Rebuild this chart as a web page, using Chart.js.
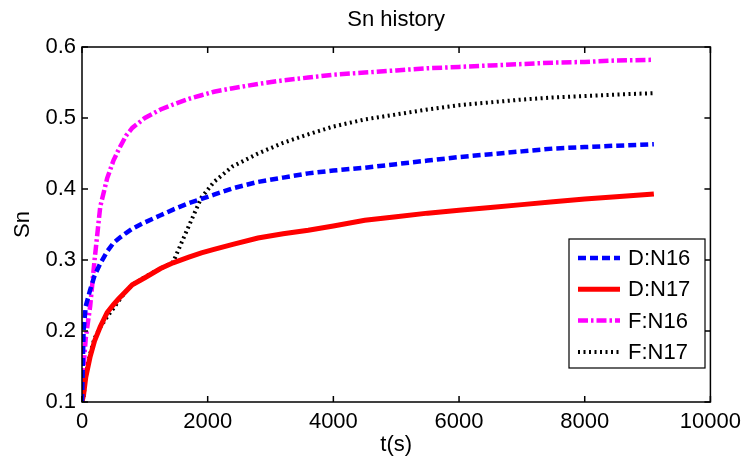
<!DOCTYPE html>
<html>
<head>
<meta charset="utf-8">
<script src="https://cdn.jsdelivr.net/npm/chart.js@4"></script>
<style>
  html, body { margin: 0; padding: 0; background: #fff; }
  #wrap { width: 748px; height: 462px; }
</style>
</head>
<body>
<div id="wrap"><canvas id="myChart" width="748" height="462"></canvas></div>
<script>
// time axis (s), shared by all four runs
const tValues = [0, 25, 60, 130, 200, 290, 400, 500, 580, 700, 800, 1000, 1250, 1450, 1700, 1900, 2100,
    2400, 2800, 3200, 3600, 4000, 4500, 5000, 5500, 6000, 6500, 7000, 7500, 8000, 8500, 9100];

const dN16 = [0.10, 0.20, 0.235, 0.258, 0.278, 0.295, 0.312, 0.324, 0.330, 0.338, 0.344, 0.353, 0.363, 0.371, 0.380, 0.386, 0.392,
    0.401, 0.410, 0.416, 0.422, 0.426, 0.430, 0.435, 0.440, 0.445, 0.449, 0.453, 0.457, 0.459, 0.461, 0.463];
const dN17 = [0.10, 0.11, 0.135, 0.164, 0.186, 0.206, 0.226, 0.237, 0.245, 0.256, 0.265, 0.275, 0.288, 0.296, 0.304, 0.310, 0.315,
    0.322, 0.331, 0.337, 0.342, 0.348, 0.356, 0.361, 0.366, 0.370, 0.374, 0.378, 0.382, 0.386, 0.389, 0.393];
const fN16 = [0.10, 0.15, 0.19, 0.235, 0.30, 0.375, 0.415, 0.44, 0.455, 0.475, 0.486, 0.500, 0.512, 0.519, 0.527, 0.532, 0.537,
    0.542, 0.548, 0.553, 0.557, 0.561, 0.564, 0.567, 0.570, 0.572, 0.574, 0.576, 0.578, 0.579, 0.581, 0.582];
const fN17 = [0.10, 0.105, 0.14, 0.168, 0.19, 0.205, 0.22, 0.232, 0.242, 0.256, 0.265, 0.276, 0.288, 0.297, 0.348, 0.388, 0.41,
    0.432, 0.450, 0.465, 0.477, 0.488, 0.498, 0.505, 0.512, 0.518, 0.522, 0.526, 0.529, 0.531, 0.533, 0.535];

const seriesNames = ['D:N16', 'D:N17', 'F:N16', 'F:N17'];
const xTicks = [0, 2000, 4000, 6000, 8000, 10000];
const yTicks = [0.1, 0.2, 0.3, 0.4, 0.5, 0.6];

const FONT = "'Liberation Sans', Arial, Helvetica, sans-serif";

function toPoints(ys) {
    return tValues.map((t, i) => ({ x: t, y: ys[i] }));
}

// matlab style box with inward ticks on all four sides
const boxTicks = {
    id: 'boxTicks',
    afterDatasetsDraw(chart) {
        const { ctx, chartArea: a, scales } = chart;
        ctx.save();
        ctx.strokeStyle = '#000';
        ctx.lineWidth = 1.5;
        ctx.strokeRect(a.left, a.top, a.right - a.left, a.bottom - a.top);
        ctx.beginPath();
        const len = 6;
        xTicks.forEach(v => {
            const x = scales.x.getPixelForValue(v);
            ctx.moveTo(x, a.bottom); ctx.lineTo(x, a.bottom - len);
            ctx.moveTo(x, a.top); ctx.lineTo(x, a.top + len);
        });
        yTicks.forEach(v => {
            const y = scales.y.getPixelForValue(v);
            ctx.moveTo(a.left, y); ctx.lineTo(a.left + len, y);
            ctx.moveTo(a.right, y); ctx.lineTo(a.right - len, y);
        });
        ctx.stroke();
        ctx.restore();
    }
};

// legend box drawn inside the axes, lower right
const boxLegend = {
    id: 'boxLegend',
    afterDraw(chart) {
        const { ctx } = chart;
        const left = 569, top = 239, w = 136, h = 129;
        ctx.save();
        ctx.fillStyle = '#fff';
        ctx.fillRect(left, top, w, h);
        ctx.strokeStyle = '#000';
        ctx.lineWidth = 1.2;
        ctx.strokeRect(left, top, w, h);
        ctx.font = '22px ' + FONT;
        ctx.textBaseline = 'middle';
        chart.data.datasets.forEach((ds, i) => {
            const y = top + 19 + i * 31.3;
            ctx.strokeStyle = ds.borderColor;
            ctx.lineWidth = ds.borderWidth;
            ctx.setLineDash(ds.borderDash || []);
            ctx.beginPath();
            ctx.moveTo(left + 9, y);
            ctx.lineTo(left + 51, y);
            ctx.stroke();
            ctx.setLineDash([]);
            ctx.fillStyle = '#000';
            ctx.fillText(ds.label, left + 59, y + 1);
        });
        ctx.restore();
    }
};

const ctx = document.getElementById('myChart').getContext('2d');

const myChart = new Chart(ctx, {
    type: 'line',
    data: {
        datasets: [{
            label: seriesNames[0],
            data: toPoints(dN16),
            borderColor: '#0000ff',
            borderWidth: 4.5,
            borderDash: [8, 4]
        }, {
            label: seriesNames[1],
            data: toPoints(dN17),
            borderColor: '#ff0000',
            borderWidth: 5
        }, {
            label: seriesNames[2],
            data: toPoints(fN16),
            borderColor: '#ff00ff',
            borderWidth: 4.5,
            borderDash: [10, 3, 2.5, 3]
        }, {
            label: seriesNames[3],
            data: toPoints(fN17),
            borderColor: '#000000',
            borderWidth: 4,
            borderDash: [2, 3.5]
        }]
    },
    options: {
        responsive: false,
        animation: false,
        layout: { padding: { top: 0, right: 36, bottom: 0, left: 0 } },
        elements: {
            point: { radius: 0 },
            line: { tension: 0, borderCapStyle: 'butt', fill: false }
        },
        plugins: {
            legend: { display: false },
            tooltip: { enabled: false },
            title: {
                display: true,
                text: 'Sn history',
                fullSize: false,
                color: '#000',
                font: { family: FONT, size: 22, weight: 'normal' },
                padding: { top: 7, bottom: 13.6 }
            }
        },
        scales: {
            x: {
                type: 'linear',
                min: 0,
                max: 10000,
                afterFit(scale) { scale.height = 60; },
                afterBuildTicks(scale) { scale.ticks = xTicks.map(v => ({ value: v })); },
                grid: { display: false, drawTicks: false },
                border: { display: false },
                ticks: {
                    color: '#000',
                    padding: 7,
                    maxRotation: 0,
                    font: { family: FONT, size: 22 },
                    callback: v => String(v)
                },
                title: {
                    display: true,
                    text: 't(s)',
                    color: '#000',
                    font: { family: FONT, size: 22 },
                    padding: { top: 0, bottom: 4 }
                }
            },
            y: {
                min: 0.1,
                max: 0.6,
                afterFit(scale) { scale.width = 82; },
                afterBuildTicks(scale) { scale.ticks = yTicks.map(v => ({ value: v })); },
                grid: { display: false, drawTicks: false },
                border: { display: false },
                ticks: {
                    color: '#000',
                    padding: 6,
                    font: { family: FONT, size: 22 },
                    callback: v => Number(v).toFixed(1)
                },
                title: {
                    display: true,
                    text: 'Sn',
                    color: '#000',
                    font: { family: FONT, size: 22 },
                    padding: { top: 10, bottom: 0 }
                }
            }
        }
    },
    plugins: [boxTicks, boxLegend]
});
</script>
</body>
</html>
